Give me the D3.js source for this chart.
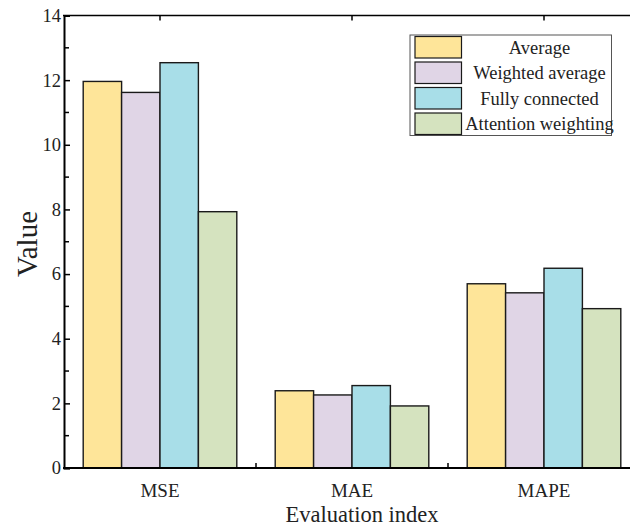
<!DOCTYPE html>
<html>
<head>
<meta charset="utf-8">
<script src="https://cdn.jsdelivr.net/npm/d3@7/dist/d3.min.js"></script>
<style>
  html, body { margin: 0; padding: 0; background: #fff; }
  svg { display: block; }
  text { font-family: "Liberation Serif", "Times New Roman", serif; }
</style>
</head>
<body>
<svg id="chart" width="630" height="528"></svg>
<script>
const categories = ["MSE", "MAE", "MAPE"];
const seriesNames = ["Average", "Weighted average", "Fully connected", "Attention weighting"];
const averageValues = [11.96, 2.39, 5.70];
const weightedAverageValues = [11.62, 2.26, 5.42];
const fullyConnectedValues = [12.54, 2.55, 6.18];
const attentionWeightingValues = [7.93, 1.92, 4.93];
const yTicks = [0, 2, 4, 6, 8, 10, 12, 14];
const colors = ["#FEE599", "#E0D5E6", "#A8DEE8", "#D5E3BF"];

const seriesValues = [averageValues, weightedAverageValues, fullyConnectedValues, attentionWeightingValues];
const FONT = "Liberation Serif, Times New Roman, serif";

const svg = d3.select("#chart");
const plotLeft = 64, plotRight = 640, plotTop = 15.5, plotBottom = 468;

const x0 = d3.scaleBand().domain(categories).range([plotLeft, plotRight]).paddingInner(0.2).paddingOuter(0.1);
const x1 = d3.scaleBand().domain(seriesNames).range([0, x0.bandwidth()]).padding(0);
const y = d3.scaleLinear().domain([0, 14]).range([plotBottom, plotTop]);
const color = d3.scaleOrdinal().domain(seriesNames).range(colors);

// bars
const groups = svg.append("g").selectAll("g").data(categories).join("g")
  .attr("transform", d => `translate(${x0(d)},0)`);
groups.selectAll("rect")
  .data((c, ci) => seriesNames.map((s, si) => ({ s, v: seriesValues[si][ci] })))
  .join("rect")
  .attr("x", d => x1(d.s))
  .attr("y", d => y(d.v))
  .attr("width", x1.bandwidth())
  .attr("height", d => y(0) - y(d.v))
  .attr("fill", d => color(d.s))
  .attr("stroke", "#1a1a1a")
  .attr("stroke-width", 1.4);

// y axis (inward ticks)
const yAxis = d3.axisLeft(y).tickValues(yTicks).tickSize(-6).tickPadding(3).tickFormat(d3.format("d"));
const gy = svg.append("g").attr("transform", `translate(${plotLeft},0)`).call(yAxis)
  .attr("font-family", FONT).attr("font-size", 18.5);
gy.select(".domain").attr("stroke", "#000").attr("stroke-width", 2);
gy.selectAll(".tick line").attr("stroke", "#000").attr("stroke-width", 1.5);
gy.selectAll(".tick text").attr("font-size", 18.5).attr("fill", "#222").attr("font-family", FONT);

// minor y ticks
const minor = d3.range(1, 14, 2);
svg.append("g").selectAll("line").data(minor).join("line")
  .attr("x1", plotLeft).attr("x2", plotLeft + 5)
  .attr("y1", d => y(d)).attr("y2", d => y(d))
  .attr("stroke", "#000").attr("stroke-width", 1.5);

// x axis
svg.append("line").attr("x1", plotLeft - 1).attr("x2", 630).attr("y1", plotBottom).attr("y2", plotBottom)
  .attr("stroke", "#000").attr("stroke-width", 2);
// bottom ticks between groups (pointing up)
const boundaries = categories.slice(1).map(c => x0(c) - x0.step() * x0.paddingInner() / 2);
svg.append("g").selectAll("line").data(boundaries).join("line")
  .attr("x1", d => d).attr("x2", d => d)
  .attr("y1", plotBottom).attr("y2", plotBottom - 5)
  .attr("stroke", "#000").attr("stroke-width", 1.5);

// top frame line with ticks at group centers (pointing down)
svg.append("line").attr("x1", plotLeft - 1).attr("x2", 630).attr("y1", plotTop).attr("y2", plotTop)
  .attr("stroke", "#000").attr("stroke-width", 1.5);
svg.append("g").selectAll("line").data(categories).join("line")
  .attr("x1", d => x0(d) + x0.bandwidth() / 2).attr("x2", d => x0(d) + x0.bandwidth() / 2)
  .attr("y1", plotTop).attr("y2", plotTop + 5)
  .attr("stroke", "#000").attr("stroke-width", 1.5);

// x category labels
svg.append("g").selectAll("text").data(categories).join("text")
  .attr("x", d => x0(d) + x0.bandwidth() / 2)
  .attr("y", 497)
  .attr("text-anchor", "middle")
  .attr("font-family", FONT)
  .attr("font-size", 19)
  .attr("fill", "#222")
  .text(d => d);

// axis titles
svg.append("text").attr("x", 362).attr("y", 522).attr("text-anchor", "middle")
  .attr("font-family", FONT).attr("font-size", 22.5).attr("fill", "#222").text("Evaluation index");
svg.append("text").attr("transform", "translate(37,244) rotate(-90)").attr("text-anchor", "middle")
  .attr("font-family", FONT).attr("font-size", 29).attr("fill", "#222").text("Value");

// legend
const lg = svg.append("g");
lg.append("rect").attr("x", 410).attr("y", 35).attr("width", 201.5).attr("height", 100.5)
  .attr("fill", "#fff").attr("stroke", "#555").attr("stroke-width", 1);
const rows = lg.selectAll("g.row").data(seriesNames).join("g").attr("class", "row")
  .attr("transform", (d, i) => `translate(0,${36.5 + i * 25.5})`);
rows.append("rect").attr("x", 415).attr("y", 0).attr("width", 46.5).attr("height", 21.5)
  .attr("fill", d => color(d)).attr("stroke", "#1a1a1a").attr("stroke-width", 1.2);
rows.append("text").attr("x", 539.5).attr("y", 17).attr("text-anchor", "middle")
  .attr("font-family", FONT).attr("font-size", 18.5).attr("fill", "#222").text(d => d);
</script>
</body>
</html>
